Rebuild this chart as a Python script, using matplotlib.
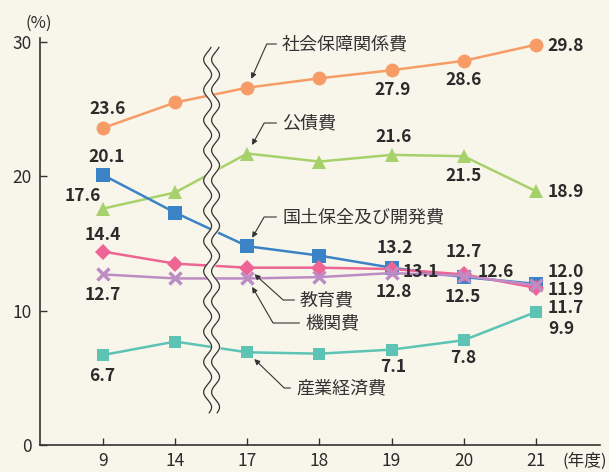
import numpy as np
import matplotlib
matplotlib.use("Agg")
import matplotlib.pyplot as plt

plt.rcParams['font.family'] = ['Noto Sans CJK JP', 'DejaVu Sans']

# data
years = ['9', '14', '17', '18', '19', '20', '21']
shakai = [23.6, 25.5, 26.6, 27.3, 27.9, 28.6, 29.8]
kosai = [17.6, 18.8, 21.7, 21.1, 21.6, 21.5, 18.9]
kokudo = [20.1, 17.3, 14.8, 14.1, 13.2, 12.5, 12.0]
kyoiku = [14.4, 13.5, 13.2, 13.2, 13.1, 12.7, 11.7]
kikan = [12.7, 12.4, 12.4, 12.5, 12.8, 12.6, 11.9]
sangyo = [6.7, 7.7, 6.9, 6.8, 7.1, 7.8, 9.9]

bg = '#f8f6eb'
txt = '#2b2b2b'

fig = plt.figure(figsize=(6.09, 4.72), dpi=100, facecolor=bg)
ax = fig.add_axes([40 / 609, 1 - 445 / 472, 560 / 609, 407 / 472], facecolor=bg)
x = np.arange(len(years))

series = [
    (shakai, '#f79c66', 'o', 10, {0: (5, 19), 4: (1, -20), 5: (0, -19), 6: (12, -1, 'left')}),
    (kosai, '#a7d26b', '^', 10.5, {0: (-20, 13), 4: (2, 18), 5: (0, -20), 6: (12, -1, 'left')}),
    (kokudo, '#3a83c7', 's', 9.5, {0: (4, 18), 4: (3, 20), 5: (-1, -20), 6: (12, 12, 'left')}),
    (kyoiku, '#ee6494', 'D', 8.5, {0: (0, 17), 4: (11, -3, 'left'), 5: (0, 22), 6: (12, -20, 'left')}),
    (kikan, '#be8cc4', 'x', 9, {0: (0, -21), 4: (2, -19), 5: (14, 4, 'left'), 6: (12, -5, 'left')}),
    (sangyo, '#5cc3b5', 's', 9, {0: (-1, -21), 4: (2, -17), 5: (0, -18), 6: (12, -17, 'left')}),
]

for vals, col, mk, ms, labels in series:
    ax.plot(x, vals, color=col, lw=1.8, marker=mk, ms=ms, mew=2.5 if mk == 'x' else 0,
            mec=col, zorder=3)
    for i, off in labels.items():
        ha = off[2] if len(off) > 2 else 'center'
        ax.annotate(f'{vals[i]:.1f}', (x[i], vals[i]), xytext=off[:2],
                    textcoords='offset pixels', ha=ha, va='center',
                    fontsize=12.5, fontweight='bold', color=txt, zorder=6)

# break mark between 14 and 17
yy = np.linspace(2.4, 29.6, 400)
wave = 0.055 * np.sin(2 * np.pi * yy / 2.25)
xl = 1.45 + wave
xr = 1.56 + wave
ax.fill_betweenx(yy, xl, xr, color=bg, zorder=4)
ax.plot(xl, yy, color='#333333', lw=0.9, zorder=5)
ax.plot(xr, yy, color='#333333', lw=0.9, zorder=5)

# category labels with leader arrows
notes = [
    ('社会保障関係費', shakai, (282, 44), 66),
    ('公債費', kosai, (282, 123), 61),
    ('国土保全及び開発費', kokudo, (282, 217), 60),
    ('教育費', kyoiku, (300, 300), 138),
    ('機関費', kikan, (305, 323), 120),
    ('産業経済費', sangyo, (296, 388), 136),
]
for name, vals, (px, py), ang in notes:
    ax.annotate(name, (x[2], vals[2]), xytext=(px / 609, 1 - py / 472),
                textcoords='figure fraction', ha='left', va='center',
                fontsize=13, color='#333333', zorder=6,
                arrowprops=dict(arrowstyle='-|>', color='#333333', lw=0.8,
                                mutation_scale=8, shrinkA=2, shrinkB=7,
                                relpos=(0, 0.5),
                                connectionstyle=f'angle,angleA=0,angleB={ang},rad=0'))

ax.set_xlim(-0.874, 6.89)
ax.set_ylim(0, 30.3)
ax.set_xticks(x)
ax.set_xticklabels(years)
ax.set_yticks([0, 10, 20, 30])
ax.tick_params(direction='in', length=5, width=1, colors='#333333',
               labelsize=12.5, labelcolor=txt)
ax.tick_params(axis='x', pad=5)
ax.tick_params(axis='y', pad=6)
for s in ['top', 'right']:
    ax.spines[s].set_visible(False)
for s in ['left', 'bottom']:
    ax.spines[s].set_color('#333333')
    ax.spines[s].set_linewidth(1.2)

fig.text(39 / 609, 1 - 23 / 472, '(%)', ha='center', va='center', fontsize=12, color=txt)
fig.text(607 / 609, 1 - 461 / 472, '(年度)', ha='right', va='center', fontsize=12, color=txt)

fig.savefig('out.png', dpi=100, facecolor=bg)
